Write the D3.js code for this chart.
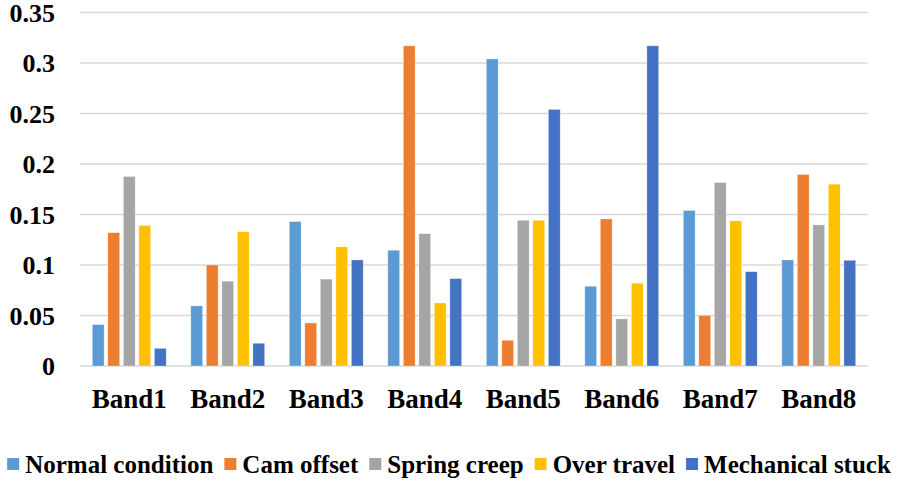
<!DOCTYPE html>
<html>
<head>
<meta charset="utf-8">
<script src="https://cdn.jsdelivr.net/npm/d3@7"></script>
<style>
  html, body { margin: 0; padding: 0; background: #fff; }
  svg text { font-family: "Liberation Serif", "Times New Roman", Times, "DejaVu Serif", serif; font-weight: 700; }
</style>
</head>
<body>
<svg id="chart" width="898" height="482"></svg>
<script>
const bands = ["Band1", "Band2", "Band3", "Band4", "Band5", "Band6", "Band7", "Band8"];
const seriesNames = ["Normal condition", "Cam offset", "Spring creep", "Over travel", "Mechanical stuck"];
const seriesColors = ["#5B9BD5", "#ED7D31", "#A5A5A5", "#FFC000", "#4472C4"];

const normalCondition = [0.041, 0.0595, 0.143, 0.1146, 0.304, 0.079, 0.154, 0.105];
const camOffset       = [0.132, 0.100, 0.0426, 0.317, 0.0255, 0.1456, 0.050, 0.1896];
const springCreep     = [0.1876, 0.084, 0.086, 0.131, 0.1443, 0.0466, 0.1816, 0.1397];
const overTravel      = [0.139, 0.133, 0.118, 0.0624, 0.1443, 0.082, 0.1437, 0.180];
const mechanicalStuck = [0.0175, 0.0225, 0.105, 0.0865, 0.254, 0.317, 0.0934, 0.1047];

const yTicks = [0, 0.05, 0.1, 0.15, 0.2, 0.25, 0.3, 0.35];

const seriesValues = [normalCondition, camOffset, springCreep, overTravel, mechanicalStuck];

const W = 898, H = 482;
const plot = {left: 80, right: 868, top: 12.5, bottom: 366};

const svg = d3.select("#chart");

const x = d3.scaleBand()
	.domain(bands)
	.range([plot.left, plot.right])
	.paddingInner(0.25)
	.paddingOuter(0.125);

const xs = d3.scaleBand()
	.domain(seriesNames)
	.range([0, x.bandwidth()])
	.paddingInner(0.24);

const y = d3.scaleLinear()
	.domain([0, 0.35])
	.range([plot.bottom, plot.top]);

// Gridlines
svg.append("g")
	.selectAll("line")
	.data(yTicks)
	.join("line")
	.attr("x1", plot.left)
	.attr("x2", plot.right)
	.attr("y1", d => y(d))
	.attr("y2", d => y(d))
	.attr("stroke", "#d9d9d9")
	.attr("stroke-width", 1.5);

// Y labels
svg.append("g")
	.selectAll("text")
	.data(yTicks)
	.join("text")
	.attr("x", 55)
	.attr("y", d => y(d))
	.attr("dy", "0.35em")
	.attr("text-anchor", "end")
	.attr("font-size", 26)
	.attr("fill", "#000")
	.text(d => d === 0 ? "0" : String(+d.toFixed(2)));

// Bars
const groups = svg.append("g")
	.selectAll("g")
	.data(bands)
	.join("g")
	.attr("transform", d => `translate(${x(d)},0)`);

groups.selectAll("rect")
	.data((b, i) => seriesNames.map((s, k) => ({s, k, v: seriesValues[k][i]})))
	.join("rect")
	.attr("x", d => xs(d.s))
	.attr("width", xs.bandwidth())
	.attr("y", d => y(d.v))
	.attr("height", d => y(0) - y(d.v))
	.attr("fill", d => seriesColors[d.k])
	.attr("stroke", "#fff")
	.attr("stroke-opacity", 0.5)
	.attr("stroke-width", 0.6);

// Band labels
svg.append("g")
	.selectAll("text")
	.data(bands)
	.join("text")
	.attr("x", d => x(d) + x.bandwidth() / 2)
	.attr("y", 408)
	.attr("text-anchor", "middle")
	.attr("font-size", 27)
	.attr("fill", "#000")
	.text(d => d);

// Legend
const legend = svg.append("g");
const items = legend.selectAll("g")
	.data(seriesNames)
	.join("g");
items.append("rect")
	.attr("width", 12)
	.attr("height", 12)
	.attr("y", -15)
	.attr("fill", (d, i) => seriesColors[i]);
items.append("text")
	.attr("x", 18)
	.attr("font-size", 25)
	.attr("fill", "#000")
	.text(d => d);

let offset = 0;
const gap = 11;
const widths = [];
items.each(function () {
	const w = d3.select(this).select("text").node().getComputedTextLength() + 18;
	widths.push(w);
});
const total = d3.sum(widths) + gap * (widths.length - 1);
let start = (W - total) / 2;
items.attr("transform", (d, i) => {
	const t = `translate(${start + offset},473)`;
	offset += widths[i] + gap;
	return t;
});
</script>
</body>
</html>
